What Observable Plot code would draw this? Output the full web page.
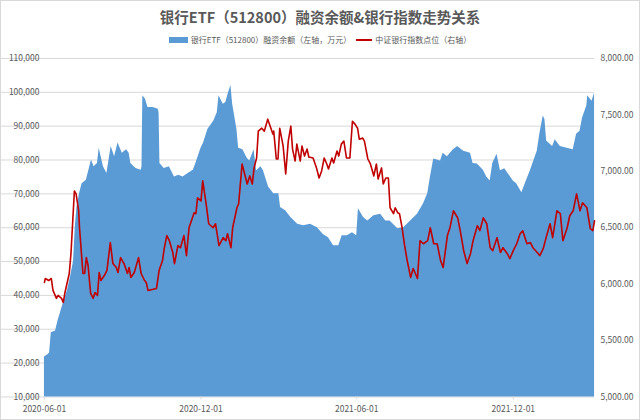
<!DOCTYPE html>
<html>
<head>
<meta charset="utf-8">
<script src="https://cdn.jsdelivr.net/npm/d3@7"></script>
<script src="https://cdn.jsdelivr.net/npm/@observablehq/plot@0.6"></script>
<style>
  html, body { margin: 0; padding: 0; background: #fff; }
  #wrap { position: relative; width: 638px; height: 418px; border: 1px solid #d9d9d9; overflow: hidden;
          font-family: "Noto Sans CJK SC", "Noto Sans", sans-serif; }
  #title { position: absolute; top: 6px; left: 0; width: 638px; text-align: center; font-size: 14.5px;
           font-weight: bold; color: #595959; line-height: 20px; }
  #legend { position: absolute; top: 33px; left: 0; width: 638px; display: flex; justify-content: center;
            align-items: center; font-size: 8px; color: #595959; line-height: 12px; }
  .sw { display: inline-block; margin-right: 3px; }
  #chart { position: absolute; top: 47px; left: -1px; }
</style>
</head>
<body>
<div id="wrap">
  <div id="title">银行ETF（512800）融资余额&amp;银行指数走势关系</div>
  <div id="legend">
    <span class="sw" style="width:19px;height:6px;background:#5b9bd5"></span><span>银行ETF（512800）融资余额（左轴，万元）</span>
    <span class="sw" style="width:16px;height:2px;background:#c00000;margin-left:5px"></span><span>中证银行指数点位（右轴）</span>
  </div>
  <div id="chart"></div>
</div>
<script>
// 银行ETF（512800）融资余额（万元）
const marginDates = ["2020-06-01","2020-06-05","2020-06-07","2020-06-09","2020-06-14","2020-06-17","2020-06-23","2020-06-28",
"2020-07-02","2020-07-05","2020-07-07","2020-07-09","2020-07-12","2020-07-15","2020-07-20","2020-07-22","2020-07-26","2020-07-29",
"2020-08-02","2020-08-04","2020-08-09","2020-08-13","2020-08-18","2020-08-22","2020-08-26","2020-08-31",
"2020-09-05","2020-09-08","2020-09-10","2020-09-16","2020-09-22","2020-09-23","2020-09-24","2020-09-27","2020-09-30",
"2020-10-06","2020-10-12","2020-10-13","2020-10-14","2020-10-19","2020-10-25","2020-10-31",
"2020-11-05","2020-11-10","2020-11-16","2020-11-22","2020-11-25",
"2020-12-01","2020-12-04","2020-12-09","2020-12-16","2020-12-20","2020-12-22","2020-12-27","2020-12-30",
"2021-01-02","2021-01-05","2021-01-07","2021-01-12","2021-01-14","2021-01-19","2021-01-24","2021-01-27",
"2021-02-01","2021-02-04","2021-02-09","2021-02-12","2021-02-18","2021-02-24",
"2021-03-02","2021-03-04","2021-03-10","2021-03-16","2021-03-24","2021-03-31",
"2021-04-08","2021-04-16","2021-04-23","2021-04-29",
"2021-05-05","2021-05-11","2021-05-15","2021-05-21","2021-05-27",
"2021-06-01","2021-06-03","2021-06-09","2021-06-14","2021-06-21","2021-06-29",
"2021-07-05","2021-07-10","2021-07-19","2021-07-26",
"2021-08-03","2021-08-11","2021-08-18","2021-08-23","2021-08-26","2021-08-30",
"2021-09-07","2021-09-10","2021-09-15","2021-09-22","2021-09-27",
"2021-10-04","2021-10-12","2021-10-15","2021-10-20","2021-10-27","2021-10-31",
"2021-11-04","2021-11-07","2021-11-12","2021-11-16","2021-11-21","2021-11-27",
"2021-12-01","2021-12-05","2021-12-11","2021-12-15","2021-12-21","2021-12-29",
"2022-01-01","2022-01-05","2022-01-07","2022-01-09","2022-01-16","2022-01-19","2022-01-25",
"2022-02-02","2022-02-09","2022-02-13","2022-02-17","2022-02-20","2022-02-25","2022-02-26","2022-03-03","2022-03-06"];
const marginValues = [21800,22500,23000,29000,29500,32600,37600,41500,
46000,50000,60000,66000,70000,73000,74000,76000,80000,78000,
79000,83500,78000,76000,84000,81000,85000,82000,
83000,82000,79000,77500,77000,78000,99000,98000,95500,
95500,95000,94000,79000,77500,78000,75000,
75500,75000,76000,77000,79000,
83500,85000,89000,91500,94000,99000,96500,97000,
99700,102000,96500,89000,83500,83000,80500,79700,
83000,76800,78000,76800,72000,70000,
70000,66000,65000,63000,61000,60600,
61000,60000,58000,57000,
54700,54700,57600,57600,58500,
57600,65600,63000,62000,63500,64000,
62000,62000,59700,60000,
62000,64000,67000,70000,74700,80300,
79700,82000,81000,83000,84000,
82600,82000,79000,78800,77000,75000,
73800,79000,81700,76800,77400,75300,
73800,73000,70300,73000,76800,82600,
87600,93000,92000,85600,84000,86000,84000,
83500,83000,87600,88500,92400,96000,99000,97400,99700];

// 中证银行指数点位
const indexDates = ["2020-06-01","2020-06-02","2020-06-06","2020-06-09","2020-06-11","2020-06-15","2020-06-17","2020-06-21","2020-06-23","2020-06-25","2020-06-30",
"2020-07-02","2020-07-06","2020-07-08","2020-07-11","2020-07-12","2020-07-16","2020-07-18","2020-07-20","2020-07-22","2020-07-25","2020-07-28","2020-07-30",
"2020-08-02","2020-08-04","2020-08-06","2020-08-10","2020-08-13","2020-08-17","2020-08-20","2020-08-24","2020-08-26","2020-08-29",
"2020-09-02","2020-09-06","2020-09-08","2020-09-10","2020-09-14","2020-09-19","2020-09-22","2020-09-26","2020-09-28","2020-09-30",
"2020-10-10","2020-10-13","2020-10-17","2020-10-19","2020-10-22","2020-10-25","2020-10-29","2020-10-31",
"2020-11-04","2020-11-07","2020-11-11","2020-11-14","2020-11-17","2020-11-19","2020-11-23","2020-11-25","2020-11-27",
"2020-12-01","2020-12-03","2020-12-07","2020-12-10","2020-12-15","2020-12-18","2020-12-22","2020-12-27","2020-12-30",
"2021-01-01","2021-01-05","2021-01-07","2021-01-12","2021-01-14","2021-01-18","2021-01-21","2021-01-24","2021-01-27","2021-01-30",
"2021-02-01","2021-02-04","2021-02-06","2021-02-10","2021-02-13","2021-02-17","2021-02-21","2021-02-23","2021-02-24","2021-02-27",
"2021-03-01","2021-03-03","2021-03-07","2021-03-10","2021-03-13","2021-03-16","2021-03-18","2021-03-21","2021-03-23","2021-03-27","2021-03-29",
"2021-04-01","2021-04-04","2021-04-06","2021-04-11","2021-04-15","2021-04-18","2021-04-21","2021-04-24","2021-04-27","2021-04-29",
"2021-05-03","2021-05-05","2021-05-09","2021-05-11","2021-05-14","2021-05-17","2021-05-20","2021-05-24","2021-05-27","2021-05-30",
"2021-06-02","2021-06-04","2021-06-08","2021-06-10","2021-06-14","2021-06-17","2021-06-21","2021-06-24","2021-06-26","2021-06-30",
"2021-07-02","2021-07-05","2021-07-08","2021-07-10","2021-07-14","2021-07-16","2021-07-19","2021-07-21","2021-07-24","2021-07-27","2021-07-30",
"2021-08-03","2021-08-06","2021-08-11","2021-08-14","2021-08-18","2021-08-23","2021-08-26","2021-08-30",
"2021-09-03","2021-09-07","2021-09-10","2021-09-15","2021-09-18","2021-09-22","2021-09-27","2021-09-30",
"2021-10-04","2021-10-08","2021-10-12","2021-10-15","2021-10-20","2021-10-23","2021-10-27","2021-10-31",
"2021-11-04","2021-11-07","2021-11-12","2021-11-16","2021-11-19","2021-11-24","2021-11-27",
"2021-12-01","2021-12-05","2021-12-09","2021-12-12","2021-12-17","2021-12-21","2021-12-24","2021-12-29",
"2022-01-01","2022-01-05","2022-01-09","2022-01-13","2022-01-16","2022-01-21","2022-01-25","2022-01-28",
"2022-02-02","2022-02-05","2022-02-09","2022-02-13","2022-02-17","2022-02-20","2022-02-25","2022-03-01","2022-03-04","2022-03-06"];
const indexValues = [6015,6050,6032,6050,5944,5874,5900,5874,5838,5926,6094,
6270,6826,6800,6650,6500,6094,6094,6235,6165,5918,5874,5926,
5900,6103,6032,6076,6120,6368,6182,6147,6103,6235,
6182,6094,6147,6059,6103,6235,6094,6032,6015,5944,
5962,6120,6209,6315,6430,6385,6280,6182,
6341,6323,6430,6253,6500,6544,6632,6624,6765,
6738,6915,6712,6535,6500,6535,6341,6412,6385,
6447,6323,6500,6677,6712,7065,6976,6888,6959,6888,
7030,7118,7356,7382,7356,7462,7374,7330,7356,7109,
7109,7382,7224,6976,7268,7400,7197,7091,7241,7091,7224,
7135,7197,7127,7118,7030,6941,7003,7118,7065,7021,
7118,7074,7180,7135,7241,7268,7118,7118,7444,7418,
7382,7285,7294,7268,7109,7065,6959,7065,6932,7030,
6888,6941,6941,6677,6624,6677,6632,6624,6500,6341,6209,
6059,6138,6050,6385,6358,6385,6500,6358,
6358,6209,6147,6430,6500,6650,6588,6474,
6297,6182,6270,6385,6518,6474,6588,6535,
6323,6297,6412,6280,6323,6270,6226,
6297,6358,6447,6474,6358,6368,6323,6280,
6253,6315,6430,6535,6412,6650,6624,6385,
6500,6606,6650,6800,6650,6721,6677,6491,6474,6562];

const leftTicks = [10000,20000,30000,40000,50000,60000,70000,80000,90000,100000,110000];
const rightTicks = [5000,5500,6000,6500,7000,7500,8000];
const xTickLabels = ["2020-06-01","2020-12-01","2021-06-01","2021-12-01"];

const parse = d3.utcParse("%Y-%m-%d");
const marginData = marginDates.map((d, i) => ({date: parse(d), value: marginValues[i]}));
const indexData = indexDates.map((d, i) => ({date: parse(d), value: indexValues[i]}));

// right axis (5,000–8,000) mapped onto left axis (10,000–110,000)
const toLeft = v => 10000 + (v - 5000) * (100000 / 3000);
const fromLeft = v => 5000 + (v - 10000) * (3000 / 100000);

const chart = Plot.plot({
  width: 640,
  height: 371,
  marginTop: 10,
  marginBottom: 22,
  marginLeft: 44,
  marginRight: 45,
  style: {fontFamily: "'Noto Sans CJK SC', 'Noto Sans', sans-serif", fontSize: "8.5px", color: "#595959", background: "transparent"},
  x: {type: "utc", domain: [parse("2020-06-01"), parse("2022-03-06")]},
  y: {domain: [10000, 110000]},
  marks: [
    Plot.gridY(leftTicks, {stroke: "#d9d9d9", strokeOpacity: 1, x1: 40}),
    Plot.areaY(marginData, {x: "date", y1: 10000, y2: "value", fill: "#5b9bd5", curve: "linear"}),
    Plot.line(indexData, {x: "date", y: d => toLeft(d.value), stroke: "#c00000", strokeWidth: 1.6}),
    Plot.axisY(leftTicks, {anchor: "left", tickFormat: d3.format(","), tickSize: 0, tickPadding: 5, label: null}),
    Plot.axisY(rightTicks.map(toLeft), {anchor: "right", tickFormat: v => d3.format(",.2f")(Math.round(fromLeft(v))), tickSize: 0, tickPadding: 6, label: null}),
    Plot.axisX(xTickLabels.map(parse), {tickFormat: d3.utcFormat("%Y-%m-%d"), tickSize: 3, tickPadding: 6, stroke: "#d9d9d9", label: null})
  ]
});
document.getElementById("chart").appendChild(chart);
</script>
</body>
</html>
